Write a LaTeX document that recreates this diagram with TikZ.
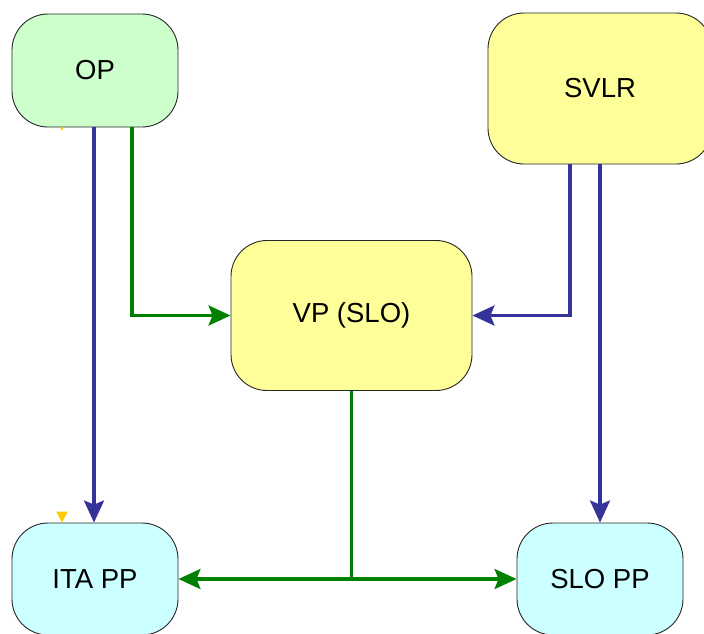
\documentclass[tikz,border=0pt]{standalone}
\usepackage{fontspec}
\setmainfont{Liberation Sans}
\usetikzlibrary{arrows.meta}
\definecolor{gfill}{HTML}{CCFFCC}
\definecolor{yfill}{HTML}{FFFF99}
\definecolor{cfill}{HTML}{CCFFFF}
\definecolor{lgreen}{HTML}{008000}
\definecolor{lblue}{HTML}{333399}
\definecolor{lyellow}{HTML}{FFCC00}
\begin{document}
\begin{tikzpicture}[x=1pt,y=-1pt,
  box/.style={draw=black!85,line width=0.9pt,rounded corners=36pt,inner sep=0pt,
    font=\fontsize{27.5}{31}\selectfont},
  gline/.style={draw=lgreen,line width=3.2pt},
  bline/.style={draw=lblue,line width=3.2pt},
  tip/.style={-{Stealth[length=22pt,width=20pt,inset=4pt]}}]
\useasboundingbox (0,0) rectangle (704,633);
\node[box,fill=gfill,minimum width=166pt,minimum height=113pt] (OP) at (95,70.5) {OP};
\node[box,fill=yfill,minimum width=224pt,minimum height=151pt] (SVLR) at (600,88.5) {SVLR};
\node[box,fill=yfill,minimum width=241pt,minimum height=150pt] (VP) at (351.5,315.5) {VP (SLO)};
\node[box,fill=cfill,minimum width=166pt,minimum height=112pt] (ITA) at (95,579) {ITA PP};
\node[box,fill=cfill,minimum width=166pt,minimum height=112pt] (SLO) at (600,579) {SLO PP};
% faint yellow connector
\draw[draw=lyellow,line width=2pt,dash pattern=on 3pt off 500pt,
  -{Triangle[length=11pt,width=11pt]}] ([xshift=-33pt]OP.south) -- ([xshift=-33pt]ITA.north);
% connectors
\draw[bline,tip] ([xshift=-1pt]OP.south) -- ([xshift=-1pt]ITA.north);
\draw[gline,tip] ([xshift=37pt]OP.south) |- (VP.west);
\draw[bline,tip] ([xshift=-30pt]SVLR.south) |- (VP.east);
\draw[bline,tip] (SVLR.south) -- (SLO.north);
\coordinate (J) at (VP.south |- ITA.east);
\draw[gline] (VP.south) -- (J);
\draw[gline,tip] (J) -- (ITA.east);
\draw[gline,tip] (J) -- (SLO.west);
\end{tikzpicture}
\end{document}
